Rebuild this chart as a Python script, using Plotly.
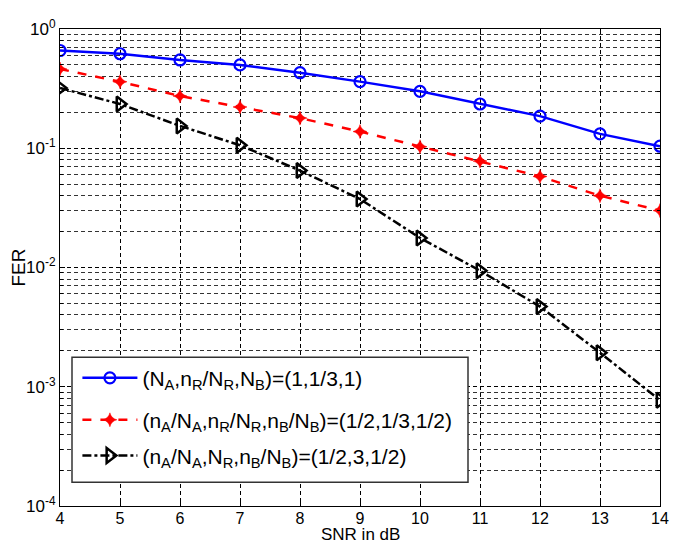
import plotly.graph_objects as go

snr = [4, 5, 6, 7, 8, 9, 10, 11, 12, 13, 14]
fer_full = [0.66, 0.62, 0.55, 0.50, 0.43, 0.362, 0.30, 0.235, 0.186, 0.132, 0.104]
fer_half = [0.462, 0.361, 0.274, 0.222, 0.179, 0.138, 0.103, 0.078, 0.058, 0.040, 0.030]
fer_relay3 = [0.32, 0.235, 0.154, 0.106, 0.065, 0.0375, 0.0177, 0.0094, 0.0047, 0.00193, 0.00077]

names = [
    "(N<sub>A</sub>,n<sub>R</sub>/N<sub>R</sub>,N<sub>B</sub>)=(1,1/3,1)",
    "(n<sub>A</sub>/N<sub>A</sub>,n<sub>R</sub>/N<sub>R</sub>,n<sub>B</sub>/N<sub>B</sub>)=(1/2,1/3,1/2)",
    "(n<sub>A</sub>/N<sub>A</sub>,N<sub>R</sub>,n<sub>B</sub>/N<sub>B</sub>)=(1/2,3,1/2)",
]
x_title = "SNR in dB"
y_title = "FER"
y_tickvals = [1e-4, 1e-3, 1e-2, 1e-1, 1]
y_ticktext = ["10<sup>-4</sup>", "10<sup>-3</sup>", "10<sup>-2</sup>", "10<sup>-1</sup>", "10<sup>0</sup>"]

fig = go.Figure()
fig.add_trace(go.Scatter(x=snr, y=fer_full, name=names[0], mode="lines+markers", legend="legend",
                         line=dict(color="#0000ff", width=2.5, dash="solid"),
                         marker=dict(symbol="circle-open", size=11, color="#0000ff",
                                     line=dict(width=2.2, color="#0000ff"))))
fig.add_trace(go.Scatter(x=snr, y=fer_half, name=names[1], mode="lines+markers", legend="legend2",
                         line=dict(color="#ff0000", width=2.5, dash="dash"),
                         marker=dict(symbol="star-diamond", size=10, color="#ff0000",
                                     line=dict(width=0.5, color="#ff0000"))))
fig.add_trace(go.Scatter(x=snr, y=fer_relay3, name=names[2], mode="lines+markers", legend="legend3",
                         line=dict(color="#000000", width=2.5, dash="dashdot"),
                         marker=dict(symbol="triangle-right-open", size=13, color="#000000",
                                     line=dict(width=2.5, color="#000000"))))

grid_dash = "4px,3px"
leg_common = dict(x=0.029, xanchor="left", yanchor="middle", bgcolor="rgba(0,0,0,0)",
                  borderwidth=0, font=dict(size=21), itemwidth=55)

# page body has an 8px margin, so the figure is 8px smaller than the window
fig.update_layout(
    width=680, height=537,
    margin=dict(l=52, r=28, t=21, b=39),
    paper_bgcolor="white", plot_bgcolor="white",
    font=dict(family="Liberation Sans, Arial, sans-serif", size=17, color="black"),
    legend=dict(y=0.268, **leg_common),
    legend2=dict(y=0.180, **leg_common),
    legend3=dict(y=0.105, **leg_common),
    showlegend=True,
    shapes=[dict(type="rect", xref="paper", yref="paper", x0=0.02, x1=0.68, y0=0.05, y1=0.312,
                 fillcolor="white", line=dict(color="#333333", width=1.5), layer="above")],
    annotations=[dict(text=x_title, xref="paper", yref="paper", x=0.5, y=-0.0815,
                      xanchor="center", yanchor="bottom", showarrow=False, borderpad=0,
                      font=dict(size=17))],
)
fig.update_xaxes(
    range=[4, 14], dtick=1, tick0=4, automargin=False,
    showline=True, linecolor="black", linewidth=1, mirror="ticks",
    ticks="inside", ticklen=5, tickcolor="black", ticklabelstandoff=-2,
    showgrid=True, gridcolor="black", griddash=grid_dash, gridwidth=1,
    zeroline=False,
    tickfont=dict(size=16),
)
fig.update_yaxes(
    type="log", range=[-4, 0], automargin=False,
    tickvals=y_tickvals, ticktext=y_ticktext,
    showline=True, linecolor="black", linewidth=1, mirror="ticks",
    ticks="inside", ticklen=5, tickcolor="black",
    showgrid=True, gridcolor="black", griddash=grid_dash, gridwidth=1,
    zeroline=False,
    minor=dict(dtick="D1", showgrid=True, gridcolor="#333333", griddash=grid_dash,
               gridwidth=1, ticks="inside", ticklen=3, tickcolor="black"),
    title=dict(text=y_title, font=dict(size=19), standoff=8),
    tickfont=dict(size=17),
)

fig.write_html("out.html")
